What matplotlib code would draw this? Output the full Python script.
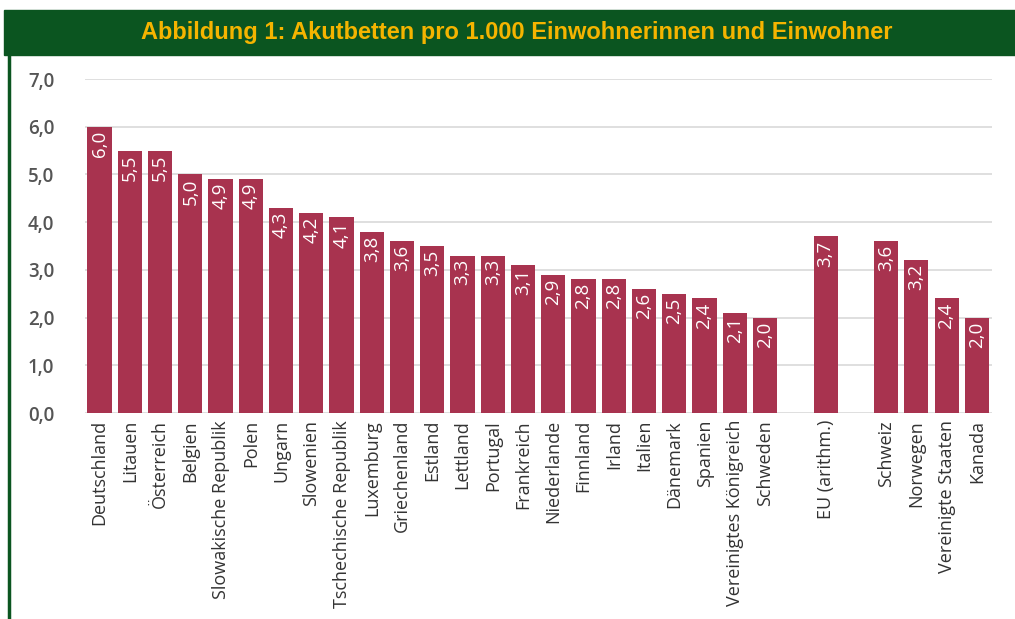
import matplotlib.pyplot as plt
from matplotlib.patches import Rectangle
from matplotlib.lines import Line2D

# Akutbetten pro 1.000 Einwohner
countries = ["Deutschland", "Litauen", "Österreich", "Belgien", "Slowakische Republik",
             "Polen", "Ungarn", "Slowenien", "Tschechische Republik", "Luxemburg",
             "Griechenland", "Estland", "Lettland", "Portugal", "Frankreich",
             "Niederlande", "Finnland", "Irland", "Italien", "Dänemark", "Spanien",
             "Vereinigtes Königreich", "Schweden"]
values = [6.0, 5.5, 5.5, 5.0, 4.9, 4.9, 4.3, 4.2, 4.1, 3.8, 3.6, 3.5, 3.3, 3.3,
          3.1, 2.9, 2.8, 2.8, 2.6, 2.5, 2.4, 2.1, 2.0]
eu_label = ["EU (arithm.)"]
eu_value = [3.7]
others = ["Schweiz", "Norwegen", "Vereinigte Staaten", "Kanada"]
others_values = [3.6, 3.2, 2.4, 2.0]

labels = countries + eu_label + others
heights = values + eu_value + others_values
# Positionen mit Lücken vor und nach EU
pos = list(range(len(countries))) + [24] + [26, 27, 28, 29]

bar_color = "#A8334F"
green = "#0B5520"
font = "Open Sans"

fig = plt.figure(figsize=(10.15, 6.19), dpi=100)

# Titelbalken
fig.patches.append(Rectangle((4 / 1015, 1 - 55 / 619), 1, 45 / 619,
                             transform=fig.transFigure, color=green, zorder=0))
fig.lines.append(Line2D([8.5 / 1015, 8.5 / 1015], [0, 1 - 54 / 619],
                        transform=fig.transFigure, color=green, linewidth=2.5))
fig.text(0.509, 1 - 33 / 619, "Abbildung 1: Akutbetten pro 1.000 Einwohnerinnen und Einwohner",
         ha="center", va="center", color="#F5B400", fontsize=17, fontweight="bold",
         family=["Liberation Sans Narrow", "Liberation Sans"])

ax = fig.add_axes([85 / 1015, 1 - 413 / 619, (992 - 85) / 1015, (413 - 79) / 619])
ax.bar(pos, heights, width=0.8, color=bar_color, zorder=3)

for x, h in zip(pos, heights):
    ax.text(x, h - 0.08, f"{h:.1f}".replace(".", ","), rotation=90, ha="center", va="top",
            color="white", fontsize=13.5, family=font, zorder=4)

ax.set_xlim(-0.48, 29.5)
ax.set_ylim(0, 7)
ax.set_yticks(range(8))
ax.set_yticklabels([f"{i},0" for i in range(8)], fontsize=13.5, color="#555555",
                   family=font, fontweight="semibold")
ax.set_xticks(pos)
ax.set_xticklabels(labels, rotation=90, fontsize=13, color="#333333", family=font)
ax.tick_params(length=0)
ax.tick_params(axis="y", pad=22)
ax.tick_params(axis="x", pad=5)
ax.yaxis.grid(True, color="#D9D9D9", linewidth=1.2, zorder=0)
for s in ax.spines.values():
    s.set_visible(False)

fig.savefig("out.png", dpi=100)
